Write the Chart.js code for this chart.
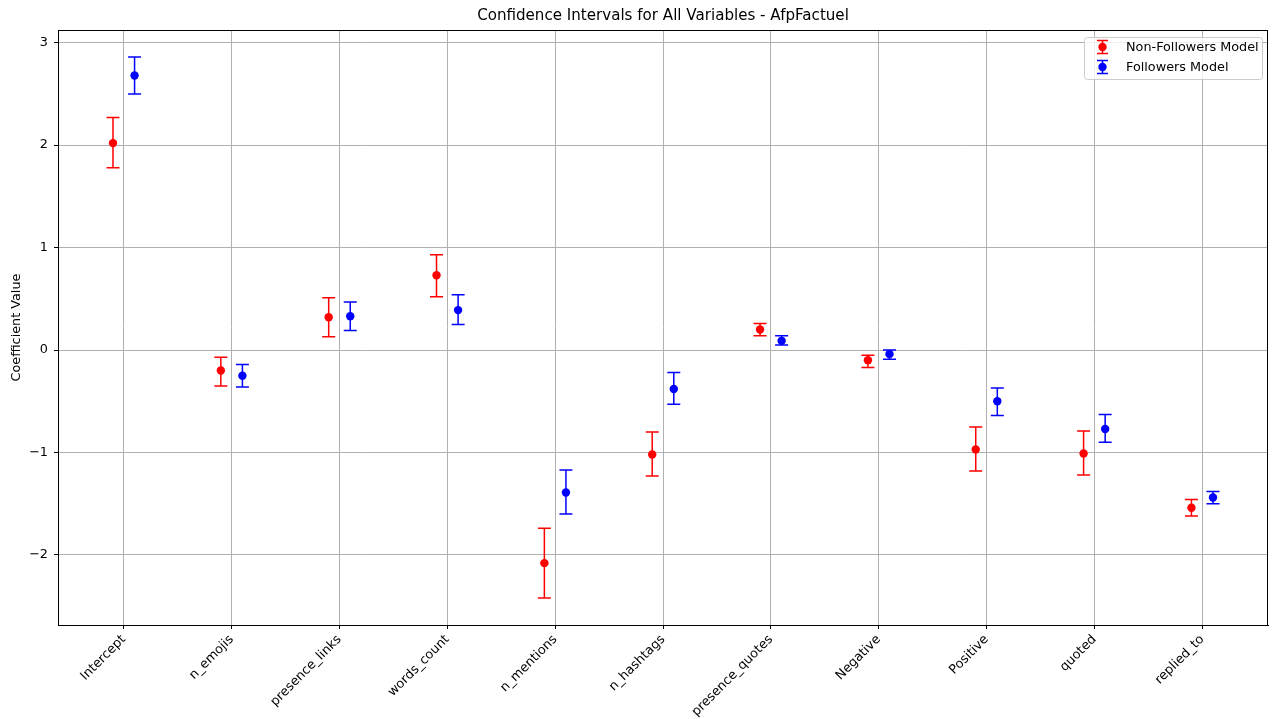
<!DOCTYPE html>
<html>
<head>
<meta charset="utf-8">
<script src="https://cdn.jsdelivr.net/npm/chart.js@4.4.1/dist/chart.umd.min.js"></script>
<style>
  html, body { margin: 0; padding: 0; background: #ffffff; }
  #wrap { width: 1276px; height: 719px; }
</style>
</head>
<body>
<div id="wrap"><canvas id="c" width="1276" height="719"></canvas></div>
<script>
// Model variables (x categories)
const categories = ['Intercept', 'n_emojis', 'presence_links', 'words_count', 'n_mentions',
  'n_hashtags', 'presence_quotes', 'Negative', 'Positive', 'quoted', 'replied_to'];

// Non-followers model: coefficient estimates and confidence bounds
const nonFollowersCoef  = [2.02, -0.20, 0.32, 0.73, -2.08, -1.02, 0.20, -0.10, -0.97, -1.01, -1.54];
const nonFollowersLower = [1.78, -0.35, 0.13, 0.52, -2.42, -1.23, 0.14, -0.17, -1.18, -1.22, -1.62];
const nonFollowersUpper = [2.27, -0.07, 0.51, 0.93, -1.74, -0.80, 0.26, -0.05, -0.75, -0.79, -1.46];

// Followers model: coefficient estimates and confidence bounds
const followersCoef  = [2.68, -0.25, 0.33, 0.39, -1.39, -0.38, 0.09, -0.04, -0.50, -0.77, -1.44];
const followersLower = [2.50, -0.36, 0.19, 0.25, -1.60, -0.53, 0.05, -0.09, -0.64, -0.90, -1.50];
const followersUpper = [2.86, -0.14, 0.47, 0.54, -1.17, -0.22, 0.14, 0.00, -0.37, -0.63, -1.38];

// Y axis tick values
const yTickValues = [-2, -1, 0, 1, 2, 3];

const FONT = "'DejaVu Sans', sans-serif";
const TEXT_SIZE = 12.8;
const TITLE_SIZE = 15.1;
const SHIFT = 0.1;       // horizontal dodge of the two models around each category
const CAP = 6.5;         // half width of error bar caps, px

function toPoints(values, shift) {
  return values.map((v, i) => ({ x: i + shift, y: v }));
}

// axis limits with a 5% margin around the data extent
const xLo = -SHIFT, xHi = categories.length - 1 + SHIFT;
const xPad = 0.05 * (xHi - xLo);
const allBounds = [...nonFollowersLower, ...nonFollowersUpper, ...followersLower, ...followersUpper];
const yLo = Math.min(...allBounds), yHi = Math.max(...allBounds);
const yPad = 0.05 * (yHi - yLo);

// vertical error bars with caps, drawn underneath the markers
const errorBars = {
  id: 'errorBars',
  beforeDatasetsDraw(chart) {
    const { ctx, scales: { x, y } } = chart;
    ctx.save();
    chart.data.datasets.forEach(ds => {
      ctx.strokeStyle = ds.borderColor;
      ctx.lineWidth = 1.5;
      ds.data.forEach((p, i) => {
        const px = x.getPixelForValue(p.x);
        const pl = y.getPixelForValue(ds.lower[i]);
        const pu = y.getPixelForValue(ds.upper[i]);
        ctx.beginPath();
        ctx.moveTo(px, pl); ctx.lineTo(px, pu);
        ctx.moveTo(px - CAP, pl); ctx.lineTo(px + CAP, pl);
        ctx.moveTo(px - CAP, pu); ctx.lineTo(px + CAP, pu);
        ctx.stroke();
      });
    });
    ctx.restore();
  }
};

// full rectangular frame around the plotting area
const frame = {
  id: 'frame',
  afterDatasetsDraw(chart) {
    const { ctx, chartArea: a } = chart;
    ctx.save();
    ctx.strokeStyle = '#000000';
    ctx.lineWidth = 1;
    ctx.strokeRect(Math.round(a.left) + 0.5, Math.round(a.top) + 0.5,
      Math.round(a.right - a.left) - 1, Math.round(a.bottom - a.top));
    ctx.restore();
  }
};

// legend box in the upper right corner of the plot area
const errorLegend = {
  id: 'errorLegend',
  afterDraw(chart) {
    const { ctx, chartArea: a } = chart;
    const right = a.right - 6, top = a.top + 7;
    const w = 178, h = 42;
    const left = right - w;
    ctx.save();
    ctx.fillStyle = 'rgba(255,255,255,0.8)';
    ctx.strokeStyle = '#cccccc';
    ctx.lineWidth = 1;
    ctx.beginPath();
    ctx.roundRect(left + 0.5, top + 0.5, w, h, 3);
    ctx.fill();
    ctx.stroke();
    ctx.font = TEXT_SIZE + 'px ' + FONT;
    ctx.textBaseline = 'middle';
    ctx.textAlign = 'left';
    chart.data.datasets.forEach((ds, i) => {
      const cy = top + 10 + i * 20;
      const cx = left + 18.5;
      ctx.strokeStyle = ds.borderColor;
      ctx.lineWidth = 1.5;
      ctx.beginPath();
      ctx.moveTo(cx, cy - 6.5); ctx.lineTo(cx, cy + 6.5);
      ctx.moveTo(cx - 5.5, cy - 6.5); ctx.lineTo(cx + 5.5, cy - 6.5);
      ctx.moveTo(cx - 5.5, cy + 6.5); ctx.lineTo(cx + 5.5, cy + 6.5);
      ctx.stroke();
      ctx.fillStyle = ds.backgroundColor;
      ctx.beginPath();
      ctx.arc(cx, cy, 4.2, 0, Math.PI * 2);
      ctx.fill();
      ctx.fillStyle = '#000000';
      ctx.fillText(ds.label, left + 42, cy + 1);
    });
    ctx.restore();
  }
};

new Chart(document.getElementById('c'), {
  type: 'scatter',
  data: {
    datasets: [
      {
        label: 'Non-Followers Model',
        data: toPoints(nonFollowersCoef, -SHIFT),
        lower: nonFollowersLower,
        upper: nonFollowersUpper,
        backgroundColor: '#ff0000',
        borderColor: '#ff0000',
        pointRadius: 4.2,
        pointHoverRadius: 4.2,
        pointBorderWidth: 0
      },
      {
        label: 'Followers Model',
        data: toPoints(followersCoef, SHIFT),
        lower: followersLower,
        upper: followersUpper,
        backgroundColor: '#0000ff',
        borderColor: '#0000ff',
        pointRadius: 4.2,
        pointHoverRadius: 4.2,
        pointBorderWidth: 0
      }
    ]
  },
  options: {
    responsive: false,
    animation: false,
    devicePixelRatio: 1,
    layout: { padding: { left: 0, right: 8, top: 0, bottom: 0 } },
    plugins: {
      legend: { display: false },
      tooltip: { enabled: false },
      title: {
        display: true,
        fullSize: false,
        text: 'Confidence Intervals for All Variables - AfpFactuel',
        color: '#000000',
        font: { family: FONT, size: TITLE_SIZE, weight: 'normal', lineHeight: 1.2 },
        padding: { top: 6.8, bottom: 5.1 }
      }
    },
    scales: {
      x: {
        type: 'linear',
        min: xLo - xPad,
        max: xHi + xPad,
        afterBuildTicks(scale) {
          scale.ticks = categories.map((_, i) => ({ value: i }));
        },
        afterFit(scale) { scale.height = 94; },
        ticks: {
          autoSkip: false,
          minRotation: 45,
          maxRotation: 45,
          padding: 3,
          color: '#000000',
          font: { family: FONT, size: TEXT_SIZE },
          callback: v => categories[v] ?? ''
        },
        grid: { color: '#b0b0b0', lineWidth: 1, drawTicks: true, tickLength: 4, tickColor: '#000000' },
        border: { display: true, color: '#000000' }
      },
      y: {
        min: yLo - yPad,
        max: yHi + yPad,
        afterBuildTicks(scale) {
          scale.ticks = yTickValues.map(v => ({ value: v }));
        },
        afterFit(scale) { scale.width = 58; },
        ticks: {
          padding: 6,
          color: '#000000',
          font: { family: FONT, size: TEXT_SIZE },
          callback: v => String(v).replace('-', '\u2212')
        },
        grid: { color: '#b0b0b0', lineWidth: 1, drawTicks: true, tickLength: 4, tickColor: '#000000' },
        border: { display: true, color: '#000000' },
        title: {
          display: true,
          text: 'Coefficient Value',
          color: '#000000',
          font: { family: FONT, size: TEXT_SIZE, lineHeight: 1.2 },
          padding: { top: 9, bottom: 0 }
        }
      }
    }
  },
  plugins: [errorBars, frame, errorLegend]
});
</script>
</body>
</html>
